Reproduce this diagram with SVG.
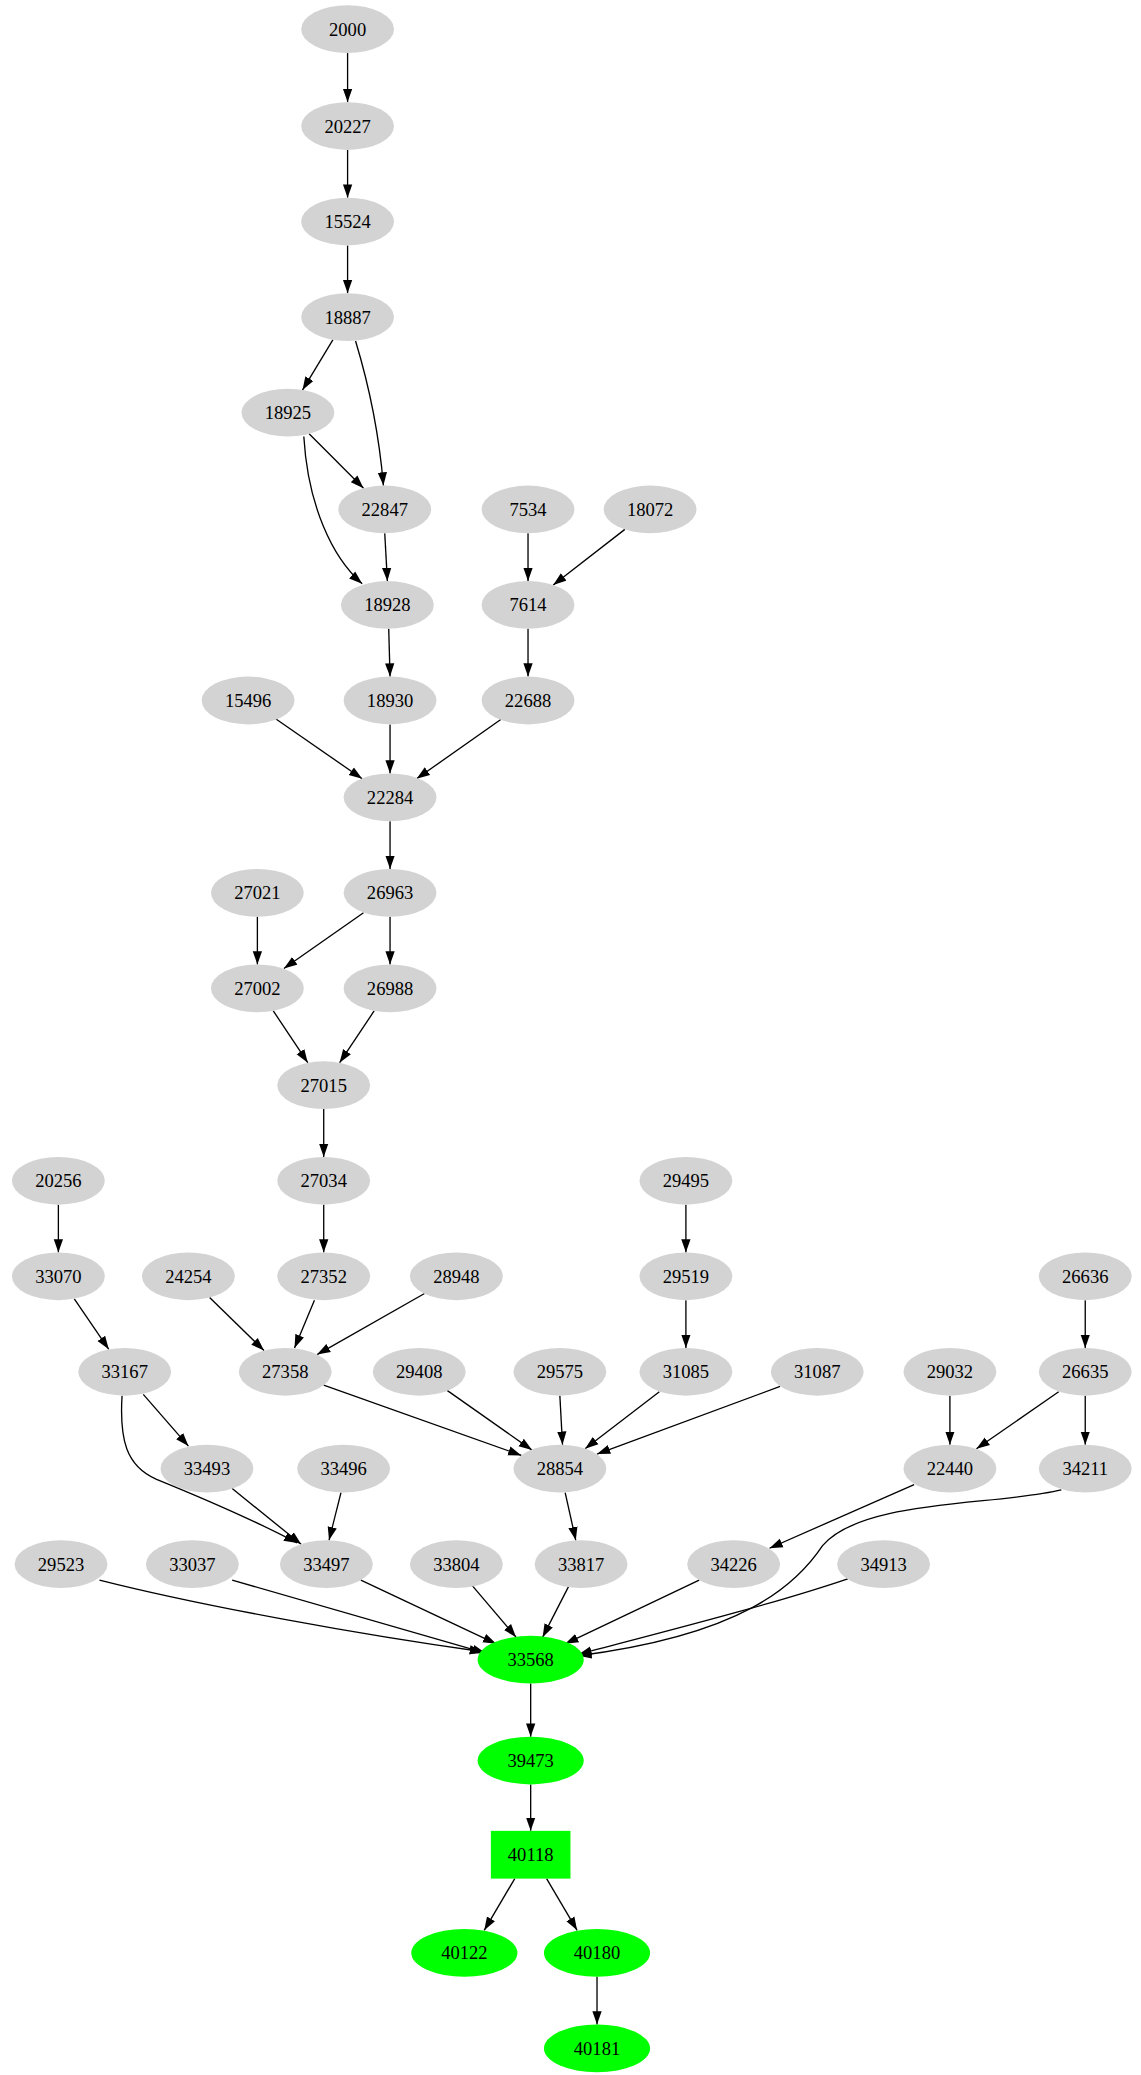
<svg xmlns="http://www.w3.org/2000/svg" width="1141" height="2075" viewBox="0 0 1141 2075">
<style>
.n ellipse{fill:#d3d3d3}
.g ellipse,.g rect{fill:#00ff00}
text{font-family:"Liberation Serif",serif;font-size:14px;text-anchor:middle;dominant-baseline:central;fill:#000}
#edges path{fill:none;stroke:#000;stroke-width:1;marker-end:url(#a)}
</style>
<defs><marker id="a" markerWidth="10" markerHeight="8" refX="10" refY="4" orient="auto" markerUnits="userSpaceOnUse"><path d="M0,0.5 L10,4 L0,7.5 Z" fill="#000"/></marker></defs>
<rect width="1141" height="2075" fill="#fff"/>
<g transform="scale(1.3267)">
<g id="edges">
<path d="M262,40 L262,77"/>
<path d="M262,113 L262,149"/>
<path d="M262,185 L262,221"/>
<path d="M251,256 L228,294"/>
<path d="M268,257 C278,290 286,330 289,366"/>
<path d="M233,327 L274,368"/>
<path d="M229,329 C232,380 250,420 273,440"/>
<path d="M290,402 L292,438"/>
<path d="M398,402 L398,438"/>
<path d="M471,399 L417,441"/>
<path d="M293,474 L294,510"/>
<path d="M398,474 L398,510"/>
<path d="M208,542 L273,587"/>
<path d="M294,546 L294,583"/>
<path d="M378,542 L314,587"/>
<path d="M294,619 L294,655"/>
<path d="M194,691 L194,727"/>
<path d="M274,688 L214,730"/>
<path d="M294,691 L294,727"/>
<path d="M206,762 L232,801"/>
<path d="M282,762 L256,801"/>
<path d="M244,836 L244,872"/>
<path d="M44,908 L44,944"/>
<path d="M244,908 L244,944"/>
<path d="M517,908 L517,944"/>
<path d="M56,979 L82,1017"/>
<path d="M158,978 L199,1018"/>
<path d="M237,980 L222,1016"/>
<path d="M320,975 L239,1021"/>
<path d="M517,980 L517,1016"/>
<path d="M818,980 L818,1016"/>
<path d="M108,1051 L142,1090"/>
<path d="M92,1052 C90,1085 95,1105 118,1115 C150,1128 190,1145 224,1163"/>
<path d="M175,1122 L227,1164"/>
<path d="M257,1125 L248,1161"/>
<path d="M244,1044 L393,1097"/>
<path d="M337,1048 L401,1093"/>
<path d="M422,1052 L424,1089"/>
<path d="M497,1049 L441,1092"/>
<path d="M588,1045 L450,1096"/>
<path d="M716,1052 L716,1089"/>
<path d="M798,1049 L736,1092"/>
<path d="M818,1052 L818,1089"/>
<path d="M426,1125 L434,1161"/>
<path d="M689,1119 L580,1167"/>
<path d="M800,1123 C750,1135 650,1130 620,1165 C600,1195 560,1232 436,1248"/>
<path d="M75,1191 C150,1210 270,1232 364,1245"/>
<path d="M175,1191 L366,1246"/>
<path d="M272,1191 L374,1239"/>
<path d="M355,1194 L389,1234"/>
<path d="M429,1195 L409,1234"/>
<path d="M527,1191 L426,1239"/>
<path d="M639,1190 C580,1210 500,1230 436,1247"/>
<path d="M400,1269 L400,1309"/>
<path d="M400,1345 L400,1380"/>
<path d="M388,1416 L365,1455"/>
<path d="M412,1416 L435,1455"/>
<path d="M450,1490 L450,1526"/>
</g>
<g id="n2000" class="n"><ellipse cx="262" cy="22" rx="35" ry="18"/><text x="262" y="22">2000</text></g>
<g id="n20227" class="n"><ellipse cx="262" cy="95" rx="35" ry="18"/><text x="262" y="95">20227</text></g>
<g id="n15524" class="n"><ellipse cx="262" cy="167" rx="35" ry="18"/><text x="262" y="167">15524</text></g>
<g id="n18887" class="n"><ellipse cx="262" cy="239" rx="35" ry="18"/><text x="262" y="239">18887</text></g>
<g id="n18925" class="n"><ellipse cx="217" cy="311" rx="35" ry="18"/><text x="217" y="311">18925</text></g>
<g id="n22847" class="n"><ellipse cx="290" cy="384" rx="35" ry="18"/><text x="290" y="384">22847</text></g>
<g id="n7534" class="n"><ellipse cx="398" cy="384" rx="35" ry="18"/><text x="398" y="384">7534</text></g>
<g id="n18072" class="n"><ellipse cx="490" cy="384" rx="35" ry="18"/><text x="490" y="384">18072</text></g>
<g id="n18928" class="n"><ellipse cx="292" cy="456" rx="35" ry="18"/><text x="292" y="456">18928</text></g>
<g id="n7614" class="n"><ellipse cx="398" cy="456" rx="35" ry="18"/><text x="398" y="456">7614</text></g>
<g id="n15496" class="n"><ellipse cx="187" cy="528" rx="35" ry="18"/><text x="187" y="528">15496</text></g>
<g id="n18930" class="n"><ellipse cx="294" cy="528" rx="35" ry="18"/><text x="294" y="528">18930</text></g>
<g id="n22688" class="n"><ellipse cx="398" cy="528" rx="35" ry="18"/><text x="398" y="528">22688</text></g>
<g id="n22284" class="n"><ellipse cx="294" cy="601" rx="35" ry="18"/><text x="294" y="601">22284</text></g>
<g id="n27021" class="n"><ellipse cx="194" cy="673" rx="35" ry="18"/><text x="194" y="673">27021</text></g>
<g id="n26963" class="n"><ellipse cx="294" cy="673" rx="35" ry="18"/><text x="294" y="673">26963</text></g>
<g id="n27002" class="n"><ellipse cx="194" cy="745" rx="35" ry="18"/><text x="194" y="745">27002</text></g>
<g id="n26988" class="n"><ellipse cx="294" cy="745" rx="35" ry="18"/><text x="294" y="745">26988</text></g>
<g id="n27015" class="n"><ellipse cx="244" cy="818" rx="35" ry="18"/><text x="244" y="818">27015</text></g>
<g id="n20256" class="n"><ellipse cx="44" cy="890" rx="35" ry="18"/><text x="44" y="890">20256</text></g>
<g id="n27034" class="n"><ellipse cx="244" cy="890" rx="35" ry="18"/><text x="244" y="890">27034</text></g>
<g id="n29495" class="n"><ellipse cx="517" cy="890" rx="35" ry="18"/><text x="517" y="890">29495</text></g>
<g id="n33070" class="n"><ellipse cx="44" cy="962" rx="35" ry="18"/><text x="44" y="962">33070</text></g>
<g id="n24254" class="n"><ellipse cx="142" cy="962" rx="35" ry="18"/><text x="142" y="962">24254</text></g>
<g id="n27352" class="n"><ellipse cx="244" cy="962" rx="35" ry="18"/><text x="244" y="962">27352</text></g>
<g id="n28948" class="n"><ellipse cx="344" cy="962" rx="35" ry="18"/><text x="344" y="962">28948</text></g>
<g id="n29519" class="n"><ellipse cx="517" cy="962" rx="35" ry="18"/><text x="517" y="962">29519</text></g>
<g id="n26636" class="n"><ellipse cx="818" cy="962" rx="35" ry="18"/><text x="818" y="962">26636</text></g>
<g id="n33167" class="n"><ellipse cx="94" cy="1034" rx="35" ry="18"/><text x="94" y="1034">33167</text></g>
<g id="n27358" class="n"><ellipse cx="215" cy="1034" rx="35" ry="18"/><text x="215" y="1034">27358</text></g>
<g id="n29408" class="n"><ellipse cx="316" cy="1034" rx="35" ry="18"/><text x="316" y="1034">29408</text></g>
<g id="n29575" class="n"><ellipse cx="422" cy="1034" rx="35" ry="18"/><text x="422" y="1034">29575</text></g>
<g id="n31085" class="n"><ellipse cx="517" cy="1034" rx="35" ry="18"/><text x="517" y="1034">31085</text></g>
<g id="n31087" class="n"><ellipse cx="616" cy="1034" rx="35" ry="18"/><text x="616" y="1034">31087</text></g>
<g id="n29032" class="n"><ellipse cx="716" cy="1034" rx="35" ry="18"/><text x="716" y="1034">29032</text></g>
<g id="n26635" class="n"><ellipse cx="818" cy="1034" rx="35" ry="18"/><text x="818" y="1034">26635</text></g>
<g id="n33493" class="n"><ellipse cx="156" cy="1107" rx="35" ry="18"/><text x="156" y="1107">33493</text></g>
<g id="n33496" class="n"><ellipse cx="259" cy="1107" rx="35" ry="18"/><text x="259" y="1107">33496</text></g>
<g id="n28854" class="n"><ellipse cx="422" cy="1107" rx="35" ry="18"/><text x="422" y="1107">28854</text></g>
<g id="n22440" class="n"><ellipse cx="716" cy="1107" rx="35" ry="18"/><text x="716" y="1107">22440</text></g>
<g id="n34211" class="n"><ellipse cx="818" cy="1107" rx="35" ry="18"/><text x="818" y="1107">34211</text></g>
<g id="n29523" class="n"><ellipse cx="46" cy="1179" rx="35" ry="18"/><text x="46" y="1179">29523</text></g>
<g id="n33037" class="n"><ellipse cx="145" cy="1179" rx="35" ry="18"/><text x="145" y="1179">33037</text></g>
<g id="n33497" class="n"><ellipse cx="246" cy="1179" rx="35" ry="18"/><text x="246" y="1179">33497</text></g>
<g id="n33804" class="n"><ellipse cx="344" cy="1179" rx="35" ry="18"/><text x="344" y="1179">33804</text></g>
<g id="n33817" class="n"><ellipse cx="438" cy="1179" rx="35" ry="18"/><text x="438" y="1179">33817</text></g>
<g id="n34226" class="n"><ellipse cx="553" cy="1179" rx="35" ry="18"/><text x="553" y="1179">34226</text></g>
<g id="n34913" class="n"><ellipse cx="666" cy="1179" rx="35" ry="18"/><text x="666" y="1179">34913</text></g>
<g id="n33568" class="g"><ellipse cx="400" cy="1251" rx="40" ry="18"/><text x="400" y="1251">33568</text></g>
<g id="n39473" class="g"><ellipse cx="400" cy="1327" rx="40" ry="18"/><text x="400" y="1327">39473</text></g>
<g id="n40118" class="g"><rect x="370" y="1380" width="60" height="36"/><text x="400" y="1398">40118</text></g>
<g id="n40122" class="g"><ellipse cx="350" cy="1472" rx="40" ry="18"/><text x="350" y="1472">40122</text></g>
<g id="n40180" class="g"><ellipse cx="450" cy="1472" rx="40" ry="18"/><text x="450" y="1472">40180</text></g>
<g id="n40181" class="g"><ellipse cx="450" cy="1544" rx="40" ry="18"/><text x="450" y="1544">40181</text></g>
</g>
</svg>
